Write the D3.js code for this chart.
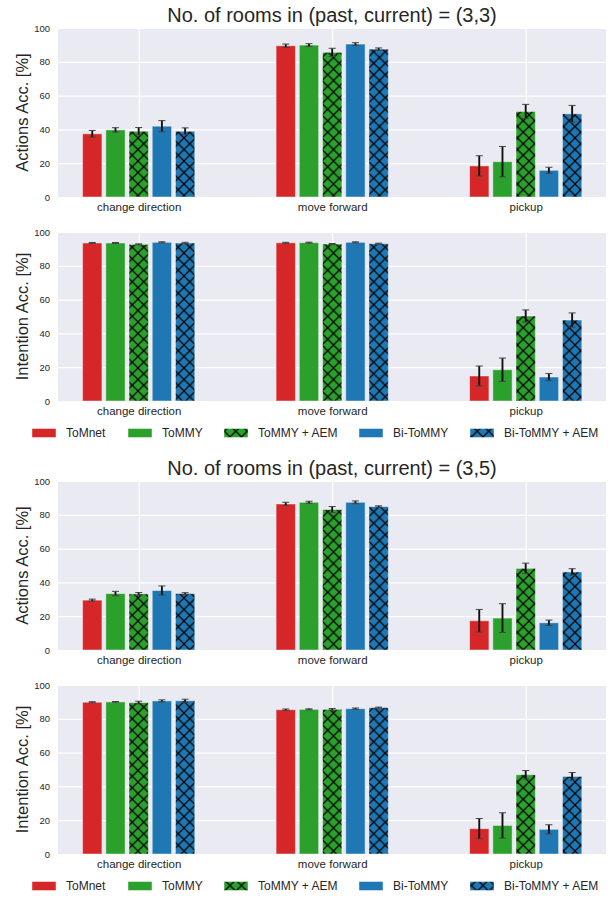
<!DOCTYPE html>
<html><head><meta charset="utf-8">
<script src="https://cdn.jsdelivr.net/npm/d3@7"></script>
<style>
body{margin:0;background:#fff;}
svg{display:block;font-family:"Liberation Sans",Arial,sans-serif;}
</style></head>
<body><svg id="c" width="613" height="898"></svg>
<script>
const categories = ["change direction","move forward","pickup"];
const models = ["ToMnet","ToMMY","ToMMY + AEM","Bi-ToMMY","Bi-ToMMY + AEM"];
const modelColors = ["#d62728","#2ca02c","#2ca02c","#1f77b4","#1f77b4"];
const modelHatched = [false,false,true,false,true];
const titles = ["No. of rooms in (past, current) = (3,3)","No. of rooms in (past, current) = (3,5)"];
const yTicks = [0,20,40,60,80,100];

// values[model][category]
const actions33 = [[37.4,89.5,18.4],[39.7,89.9,20.9],[38.9,85.6,50.6],[41.9,90.5,15.8],[38.9,87.5,49.2]];
const actions33Err = [[2.0,1.0,6.0],[1.3,0.8,9.0],[2.2,2.4,4.2],[3.3,0.8,1.8],[2.0,0.7,5.0]];
const intent33 = [[93.5,93.6,14.8],[93.5,93.7,18.5],[92.7,92.9,50.3],[93.9,93.9,14.2],[93.5,93.1,47.9]];
const intent33Err = [[0.3,0.3,5.9],[0.3,0.3,6.9],[0.3,0.3,3.6],[0.3,0.3,2.1],[0.4,0.3,4.2]];
const actions35 = [[29.5,86.4,17.3],[33.4,87.4,18.9],[33.2,83.1,48.3],[35.2,87.4,16.1],[33.4,84.9,46.2]];
const actions35Err = [[0.6,1.0,6.7],[1.3,0.6,8.5],[0.8,1.8,3.1],[2.7,0.8,1.6],[0.5,0.4,1.9]];
const intent35 = [[89.8,85.4,15.0],[90.0,85.6,16.9],[89.6,85.6,46.9],[90.6,86.0,14.6],[90.7,86.6,45.9]];
const intent35Err = [[0.3,0.4,6.0],[0.2,0.3,7.5],[0.8,0.5,2.5],[0.6,0.4,2.7],[0.9,0.3,2.3]];

const panels = [
  {label:"Actions Acc. [%]", vals:actions33, errs:actions33Err, top:28, bottom:197, title:0, legend:false},
  {label:"Intention Acc. [%]", vals:intent33, errs:intent33Err, top:232, bottom:401, title:null, legend:true},
  {label:"Actions Acc. [%]", vals:actions35, errs:actions35Err, top:481, bottom:650, title:1, legend:false},
  {label:"Intention Acc. [%]", vals:intent35, errs:intent35Err, top:685, bottom:854, title:null, legend:true}
];

const svg = d3.select("#c");
const L = 58, R = 606;
const x = d3.scaleLinear().domain([-0.417, 2.415]).range([L, R]);
const barW = 0.1, barStep = 0.12;
const textCol = "#262626";

// hatch patterns
const defs = svg.append("defs");
const T = 11.5;
["#2ca02c","#1f77b4"].forEach((c,i)=>{
  const p = defs.append("pattern").attr("id","hatch"+i).attr("patternUnits","userSpaceOnUse")
    .attr("width",T).attr("height",T);
  p.append("rect").attr("width",T).attr("height",T).attr("fill",c);
  p.append("path").attr("d",`M0,0L${T},${T}M${T},0L0,${T}M${-1},${1}L${1},${-1}M${T-1},${T+1}L${T+1},${T-1}`)
    .attr("stroke","#000").attr("stroke-width",1.2).attr("fill","none");
});
function fillFor(m){
  if(!modelHatched[m]) return modelColors[m];
  return modelColors[m]==="#2ca02c" ? "url(#hatch0)" : "url(#hatch1)";
}

panels.forEach(pn=>{
  const y = d3.scaleLinear().domain([0,100]).range([pn.bottom, pn.top]);
  const g = svg.append("g");
  g.append("rect").attr("x",L).attr("y",pn.top).attr("width",R-L).attr("height",pn.bottom-pn.top).attr("fill","#eaeaf2");
  const gy = g.append("g").attr("transform",`translate(${L},0)`)
    .call(d3.axisLeft(y).tickValues(yTicks).tickSize(-(R-L)).tickFormat(d=>d).tickPadding(8));
  gy.select(".domain").remove();
  gy.selectAll(".tick line").attr("stroke","#fff").attr("stroke-width",1.2);
  gy.selectAll(".tick text").attr("fill",textCol).attr("font-size",9.5).attr("font-family","Liberation Sans, Arial, sans-serif");
  const gx = g.append("g").attr("transform",`translate(0,${pn.bottom})`)
    .call(d3.axisBottom(x).tickValues([0,1,2]).tickSize(-(pn.bottom-pn.top)).tickFormat(i=>categories[i]).tickPadding(6));
  gx.select(".domain").remove();
  gx.selectAll(".tick line").attr("stroke","#fff").attr("stroke-width",1.2);
  gx.selectAll(".tick text").attr("fill",textCol).attr("font-size",11.5).attr("font-family","Liberation Sans, Arial, sans-serif");

  models.forEach((m,mi)=>{
    categories.forEach((c,ci)=>{
      const cx = ci + (mi-2)*barStep;
      const v = pn.vals[mi][ci], e = pn.errs[mi][ci];
      g.append("rect")
        .attr("x", x(cx-barW/2)).attr("width", x(cx+barW/2)-x(cx-barW/2))
        .attr("y", y(v)).attr("height", y(0)-y(v))
        .attr("fill", fillFor(mi))
        .attr("stroke","rgba(255,255,255,0.45)").attr("stroke-width",1);
      const px = x(cx);
      g.append("line").attr("x1",px).attr("x2",px).attr("y1",y(v-e)).attr("y2",y(v+e))
        .attr("stroke","#111").attr("stroke-width",1.9);
      [v-e,v+e].forEach(t=>{
        g.append("line").attr("x1",px-3.5).attr("x2",px+3.5).attr("y1",y(t)).attr("y2",y(t))
          .attr("stroke","#444").attr("stroke-width",1);
      });
    });
  });

  const ymid = (pn.top+pn.bottom)/2;
  g.append("text").attr("transform",`translate(28,${ymid}) rotate(-90)`)
    .attr("text-anchor","middle").attr("font-size",16.5).attr("fill",textCol).text(pn.label);

  if(pn.title!==null){
    g.append("text").attr("x",(L+R)/2).attr("y",pn.top-6).attr("text-anchor","middle")
      .attr("font-size",20).attr("fill",textCol).text(titles[pn.title]);
  }
  if(pn.legend){
    const ly = pn.bottom + 32;
    const lxs = [32,128,224,359,470];
    models.forEach((m,mi)=>{
      g.append("rect").attr("x",lxs[mi]).attr("y",ly-4.5).attr("width",24).attr("height",9)
        .attr("fill",fillFor(mi)).attr("stroke","rgba(255,255,255,0.45)");
      g.append("text").attr("x",lxs[mi]+34).attr("y",ly).attr("dy","0.35em")
        .attr("font-size",12).attr("fill",textCol).text(m);
    });
  }
});
</script></body></html>
